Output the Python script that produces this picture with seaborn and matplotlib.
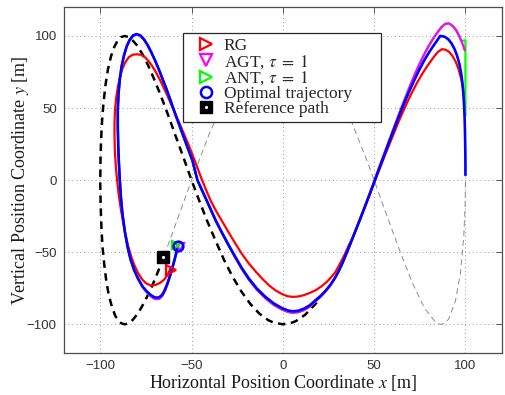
import matplotlib
matplotlib.use("Agg")
import matplotlib.pyplot as plt
import seaborn as sns
from matplotlib.lines import Line2D

# ---------------- data ----------------
# reference path, highlighted part (thick black dashed)
ref_x = [18.6, 12.1, 7.1, 5.1, 0.0, -4.9, -7.9, -12.9, -17.8, -22.7, -27.6, -32.3, -37.0,
         -41.6, -46.1, -50.5, -54.7, -58.9, -62.8, -66.6, -70.3, -73.7, -77.0, -80.1,
         -83.0, -84.7, -86.6, -88.6, -90.4, -92.4, -94.2, -95.8, -97.1, -98.2, -99.0,
         -99.6, -99.9, -100.0, -99.8, -99.4, -98.8, -97.8, -96.7, -95.3, -93.6, -91.8,
         -89.7, -88.3, -86.6, -84.8, -82.1, -79.1, -76.0, -72.6, -69.0, -65.0]
ref_y = [-84.9, -93.5, -97.8, -98.8, -100.0, -98.9, -97.2, -92.6, -85.9, -77.3, -66.9,
         -55.1, -41.6, -27.9, -13.3, 1.7, 16.6, 31.2, 45.0, 57.8, 69.4, 79.4, 87.6, 93.8,
         97.9, 99.3, 100.0, 99.2, 97.0, 92.2, 85.5, 76.8, 66.3, 54.3, 41.2,
         27.0, 12.5, -2.5, -17.4, -31.9, -45.8, -58.8, -70.0, -80.0, -88.0, -94.1,
         -98.1, -99.4, -100.0, -99.5, -96.8, -91.9, -85.0, -76.4, -65.5, -52.4]
# reference path, remaining part (thin grey dashed)
refg_x = [-65.0, -57.5, -49.0, -40.1, -30.7, -21.1, -11.2, -6.2, 0.0, 4.8, 8.8, 18.7, 28.4,
          37.8, 46.9, 55.4, 63.5, 70.9, 77.6, 83.5, 84.6, 86.6, 88.6, 90.8, 94.5, 97.3,
          99.1, 99.8, 100.0]
refg_y = [-52.4, -26.3, 3.4, 32.7, 59.2, 80.4, 94.4, 98.3, 100.0, 99.0, 96.6, 84.6, 65.0,
          39.9, 10.8, -19.1, -47.2, -71.2, -88.8, -98.4, -99.3, -100.0, -99.3, -96.4, -84.0,
          -64.3, -38.7, -18.9, 0.0]

# RG trajectory (red)
rg_x = [-61.5, -63.0, -65.0, -67.5, -70.0, -72.5, -75.0, -77.3, -79.5, -81.5, -83.3, -85.0,
        -86.5, -87.8, -89.0, -90.0, -90.8, -91.5, -92.0, -92.2, -92.2, -91.9, -91.3, -90.4,
        -89.2, -87.8, -86.2, -84.4, -82.2, -79.6, -77.5, -75.5, -73.5, -71.5, -69.5, -67.5,
        -65.5, -63.5, -61.5, -59.2, -56.8, -54.3, -51.8, -49.3, -46.8, -44.4, -42.0, -39.5,
        -36.5, -33.2, -30.0, -26.5, -22.8, -18.6, -14.8, -11.2, -7.7, -4.0, -0.5, 2.5, 5.5,
        8.5, 11.5, 14.7, 17.9, 21.0, 23.9, 26.5, 28.8, 31.3, 33.7, 36.0, 38.5, 41.0, 43.5,
        46.0, 48.5, 51.0, 53.5, 56.0, 58.5, 61.0, 63.4, 66.0, 68.5, 71.0, 73.5, 76.0, 78.5,
        81.0, 83.0, 85.0, 87.1, 89.0, 91.0, 93.0, 94.7, 96.2, 97.4, 98.4, 99.0, 99.3]
rg_y = [-61.0, -65.5, -69.0, -71.5, -72.8, -73.0, -71.5, -68.5, -64.0, -58.5, -52.0, -44.5,
        -36.0, -27.0, -18.0, -9.0, 0.0, 10.0, 20.0, 30.0, 40.0, 49.0, 57.0, 64.5,
        71.5, 77.5, 82.0, 85.2, 87.0, 87.3, 86.8, 85.2, 82.5, 79.0, 74.8, 70.0,
        64.8, 59.3, 53.5, 47.0, 40.0, 32.5, 25.0, 17.0, 8.5, 0.5, -7.0, -14.3,
        -21.6, -28.7, -35.6, -43.0, -50.5, -57.9, -63.5, -68.5, -72.9, -76.5, -79.0, -80.5, -81.0,
        -80.7, -79.8, -78.3, -76.4, -73.8, -70.8, -67.3, -63.7, -58.0, -52.0, -45.5, -39.0, -31.0, -23.0,
        -15.0, -6.8, 1.5, 9.5, 17.5, 25.3, 33.0, 40.5, 48.0, 55.0, 61.5, 67.5, 73.0, 78.0,
        82.5, 86.0, 89.0, 90.8, 90.5, 89.0, 86.0, 82.0, 77.0, 71.5, 65.5, 61.0, 59.0]

# optimal trajectory (blue)
opt_x = [-57.5, -58.3, -59.3, -60.5, -61.8, -63.2, -64.6, -66.0, -67.6, -69.3, -71.0, -72.8,
         -74.8, -76.9, -79.2, -81.4, -83.4, -85.0, -86.5, -87.8, -88.7, -89.3, -89.8, -90.2,
         -90.4, -90.4, -90.0, -89.3, -88.3, -87.0, -85.6, -84.0, -82.0, -80.0, -78.0, -76.0,
         -74.0, -72.0, -70.0, -68.0, -66.0, -64.0, -62.0, -60.5, -58.7, -56.8, -54.5, -52.0,
         -49.5, -46.8, -44.5, -42.0, -39.5, -36.8, -33.5, -30.0, -26.5, -22.7, -18.6, -14.2,
         -9.5, -5.0, -0.5, 3.0, 5.5, 8.5, 11.5, 14.8, 17.9, 20.5, 23.2, 25.8, 28.3, 30.7,
         33.0, 35.1, 37.5, 40.0, 42.5, 45.0, 47.5, 50.0, 52.5, 55.0, 57.5, 60.0, 62.5, 65.0,
         67.5, 70.0, 72.5, 75.0, 77.5, 80.0, 82.0, 84.0, 86.2, 88.5, 90.5, 92.3, 94.0, 95.5,
         96.7, 97.6, 98.3, 98.8, 99.2, 99.5, 99.7, 99.85, 99.95, 100.0, 100.0]
opt_y = [-46.0, -50.0, -55.0, -60.5, -66.0, -71.5, -76.0, -79.3, -81.2, -81.6, -80.8, -79.2,
         -76.8, -73.6, -68.5, -62.5, -55.0, -46.5, -36.0, -24.0, -12.0, 0.0, 12.0, 25.0,
         37.0, 49.0, 60.0, 70.0, 79.0, 86.5, 92.5, 97.0, 100.3, 101.2, 100.2, 97.5,
         93.5, 88.5, 83.0, 77.0, 70.5, 64.0, 57.0, 51.5, 45.0, 38.5, 30.5, 22.0,
         13.5, 0.0, -6.4, -13.3, -20.3, -27.8, -36.0, -44.3, -52.2, -60.5, -68.3, -75.2,
         -81.0, -85.5, -88.8, -90.5, -91.0, -90.6, -89.2, -86.8, -83.3, -80.5, -77.0, -73.0, -68.3, -62.8,
         -56.5, -50.0, -42.5, -34.5, -26.5, -18.3, -10.0, -1.5, 7.0, 15.5, 24.0, 32.5, 40.8, 48.8,
         56.5, 63.8, 70.7, 77.2, 83.2, 88.5, 92.3, 96.0, 100.0, 99.5, 97.8, 95.0, 91.0, 86.0,
         80.5, 74.5, 68.0, 61.0, 53.5, 45.0, 36.0, 27.0, 18.0, 10.0, 3.5]

# AGT trajectory (magenta)
agt_x = [-57.5, -58.3, -59.3, -60.5, -61.8, -63.2, -64.6, -66.0, -67.6, -69.3, -71.0, -72.8,
         -74.8, -76.9, -79.2, -81.4, -83.4, -85.0, -86.5, -87.8, -88.7, -89.3, -89.8, -90.2,
         -90.4, -90.4, -90.0, -89.3, -88.3, -87.0, -85.6, -84.0, -82.0, -80.0, -78.0, -76.0,
         -74.0, -72.0, -70.0, -68.0, -66.0, -64.0, -62.0, -60.5, -58.7, -56.8, -54.5, -52.0,
         -49.5, -46.8, -44.5, -42.0, -39.5, -36.8, -33.5, -30.0, -26.5, -22.7, -18.6, -14.2,
         -9.5, -5.0, -0.5, 3.0, 5.5, 8.5, 11.5, 14.8, 17.9, 20.5, 23.2, 25.8, 28.3, 30.7,
         33.0, 35.1, 37.5, 40.0, 42.5, 45.0, 47.5, 50.0, 52.5, 55.0, 57.5, 60.0, 62.5, 65.0,
         67.5, 70.0, 72.5, 75.0, 77.5, 80.0, 82.5, 85.0, 87.0, 89.0, 91.0, 93.0, 94.8, 96.4,
         97.8, 99.0, 99.6]
agt_y = [-46.0, -50.3, -55.5, -61.2, -66.8, -72.3, -76.9, -80.3, -82.2, -82.6, -81.8, -80.0,
         -77.4, -74.0, -68.8, -62.7, -55.0, -46.5, -36.0, -24.0, -12.0, 0.0, 12.0, 25.0,
         37.0, 49.0, 60.0, 70.0, 79.0, 86.5, 92.5, 97.0, 100.5, 101.4, 100.4, 97.5,
         93.5, 88.5, 83.0, 77.0, 70.5, 64.0, 57.0, 51.5, 45.0, 38.5, 30.5, 22.0,
         13.5, 0.0, -6.5, -13.5, -20.6, -28.2, -36.4, -44.8, -52.8, -61.2, -69.1, -76.1,
         -82.0, -86.5, -89.8, -91.5, -92.0, -91.6, -90.2, -87.7, -84.0, -81.1, -77.5, -73.4, -68.6, -63.0,
         -56.6, -50.0, -42.5, -34.5, -26.3, -18.0, -9.5, -1.0, 8.0, 16.5, 25.0, 33.5, 42.0, 50.5,
         58.5, 66.5, 74.0, 81.0, 87.5, 93.3, 98.5, 103.0, 106.3, 108.4, 108.7, 107.0, 104.2, 100.5,
         96.5, 92.5, 90.0]

# ANT trajectory (green): AGT-like path, then saturated at x = 100
ant_x = agt_x[:-2] + [100.0, 100.0]
ant_y = agt_y[:-2] + [97.0, 45.0]

# current positions (markers)
rg_pos = (-61.4, -62.0)
agt_pos = (-56.5, -46.5)
ant_pos = (-58.5, -45.0)
opt_pos = (-57.5, -46.0)
ref_pos = (-65.5, -53.3)

labels = ["RG", r"AGT, $\tau\;=\;1$", r"ANT, $\tau\;=\;1$", "Optimal trajectory",
          "Reference path"]
xticks = [-100, -50, 0, 50, 100]
yticks = [-100, -50, 0, 50, 100]
ticklabels = ["\u2212100", "\u221250", "0", "50", "100"]

# ---------------- style ----------------
sns.set_theme(style="white")
plt.rcParams["font.family"] = ["Liberation Sans", "DejaVu Sans"]
plt.rcParams["mathtext.fontset"] = "stix"

fig, ax = plt.subplots(figsize=(5.06, 3.95), dpi=100)
fig.subplots_adjust(left=0.126, right=0.992, top=0.982, bottom=0.106)

serif = ["Liberation Serif", "DejaVu Serif"]

# reference path
sns.lineplot(x=refg_x, y=refg_y, sort=False, estimator=None, ax=ax, color="0.55",
             lw=0.7, linestyle=(0, (6, 4)))
sns.lineplot(x=ref_x, y=ref_y, sort=False, estimator=None, ax=ax, color="black",
             lw=1.8, linestyle=(0, (3.0, 2.2)))

# trajectories
sns.lineplot(x=rg_x, y=rg_y, sort=False, estimator=None, ax=ax, color="#ff0000", lw=1.6)
sns.lineplot(x=ant_x, y=ant_y, sort=False, estimator=None, ax=ax, color="#00ff00", lw=1.6)
sns.lineplot(x=agt_x, y=agt_y, sort=False, estimator=None, ax=ax, color="#ff00ff", lw=1.6)
sns.lineplot(x=opt_x, y=opt_y, sort=False, estimator=None, ax=ax, color="#0000ff", lw=1.9)

# markers
ax.plot([rg_pos[0]], [rg_pos[1]], ">", ms=7, mfc="none", mec="#ff0000", mew=1.6)
ax.plot([agt_pos[0]], [agt_pos[1]], "v", ms=6, mfc="none", mec="#ff00ff", mew=1.6)
ax.plot([ant_pos[0]], [ant_pos[1]], ">", ms=6, mfc="none", mec="#00ff00", mew=1.6)
ax.plot([opt_pos[0]], [opt_pos[1]], "o", ms=7, mfc="none", mec="#0000ff", mew=1.8)
ax.plot([ref_pos[0]], [ref_pos[1]], "s", ms=9, mfc="black", mec="black")
ax.plot([ref_pos[0]], [ref_pos[1]], ".", ms=2.5, color="white")

# axes
ax.set_xlim(-120, 120)
ax.set_ylim(-120, 120)
ax.set_xticks(xticks)
ax.set_yticks(yticks)
ax.set_xticklabels(ticklabels)
ax.set_yticklabels(ticklabels)
ax.grid(True, linestyle=(0, (1, 3)), color="0.6", lw=0.7)
ax.tick_params(direction="in", top=True, right=True, length=4, width=0.6,
               labelsize=9.5, colors="0.25", labelcolor="0.2", pad=5)
for s in ax.spines.values():
    s.set_visible(True)
    s.set_color("0.3")
    s.set_linewidth(0.9)

ax.set_xlabel(r"Horizontal Position Coordinate $x$ [m]", family=serif, fontsize=13,
              color="0.1", labelpad=1)
ax.set_ylabel(r"Vertical Position Coordinate $y$ [m]", family=serif, fontsize=13,
              color="0.1", labelpad=-3)

# legend
handles = [
    Line2D([], [], ls="none", marker=">", ms=8, mfc="none", mec="#ff0000", mew=1.6),
    Line2D([], [], ls="none", marker="v", ms=8, mfc="none", mec="#ff00ff", mew=1.6),
    Line2D([], [], ls="none", marker=">", ms=8, mfc="none", mec="#00ff00", mew=1.6),
    Line2D([], [], ls="none", marker="o", ms=8, mfc="none", mec="#0000ff", mew=1.8),
    (Line2D([], [], ls="none", marker="s", ms=9, mfc="black", mec="black"),
     Line2D([], [], ls="none", marker=".", ms=2.5, color="white")),
]
leg = ax.legend(handles, labels, loc="upper left",
                bbox_to_anchor=(0.272, 0.725, 0.452, 0.2), mode="expand",
                borderaxespad=0, fancybox=False, framealpha=1, edgecolor="0.15",
                prop={"family": serif, "size": 12.5}, handlelength=2.0,
                handletextpad=0.05, labelspacing=-0.08, borderpad=0.3, numpoints=1)
leg.get_frame().set_linewidth(0.9)

fig.savefig("out.png", dpi=100)
